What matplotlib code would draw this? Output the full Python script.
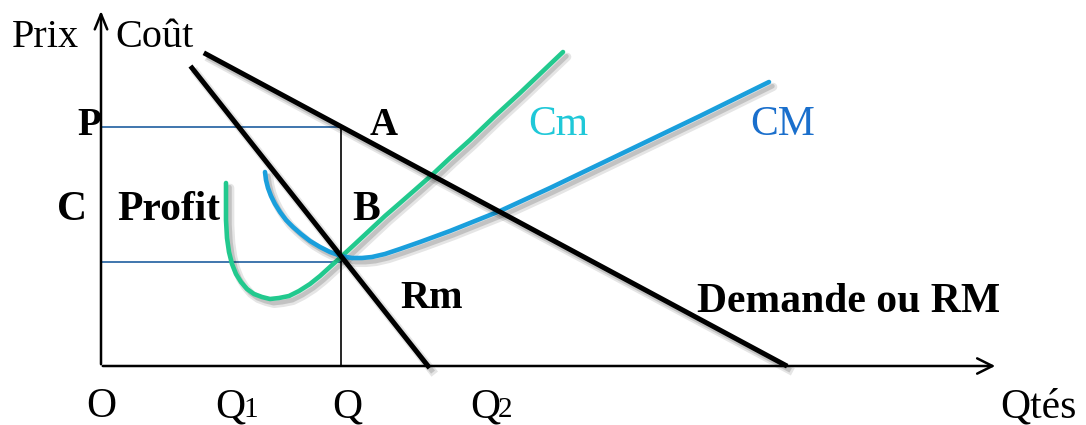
import matplotlib
matplotlib.use("Agg")
import matplotlib.pyplot as plt
import matplotlib.patheffects as pe

# ---- data (in picture units) ----
demand_x = [206, 785]
demand_y = [54, 365]
rm_x = [192, 428]
rm_y = [68, 366]
cm_x = [226, 226, 226, 227, 229, 232, 236, 241, 247, 254, 262, 270, 279, 289, 299, 310, 320, 331, 341,
        355, 370, 385, 400, 416, 433, 450, 470, 495, 520, 542, 563]
cm_y = [183, 200, 220, 238, 252, 264, 274, 282, 289, 294, 297, 299, 298, 296, 291, 284, 276, 266, 257,
        244, 230, 216, 203, 189, 174, 158, 140, 116, 93, 72, 52]
CM_x = [265, 266, 268, 271, 275, 280, 286, 293, 301, 310, 320, 330, 341, 352, 362, 372, 385, 400, 420,
        450, 500, 550, 600, 650, 700, 769]
CM_y = [172, 180, 188, 196, 204, 212, 220, 227, 234, 241, 247, 252, 256, 258, 258, 257, 254, 249, 242,
        231, 211, 188, 164, 140, 116, 82]
price_P = 127
cost_C = 262
qty_Q = 341
origin_x = 101
axis_y = 366
x_end = 998
y_end = 8

W, H = 1086, 425
fig = plt.figure(figsize=(W / 100, H / 100), dpi=100)
ax = fig.add_axes([0, 0, 1, 1])
ax.set_xlim(0, W)
ax.set_ylim(H, 0)
ax.axis("off")

serif = ["Liberation Serif", "DejaVu Serif"]
shadow = [pe.SimpleLineShadow(offset=(3, -3.5), shadow_color="black", alpha=0.10, linewidth=6),
          pe.SimpleLineShadow(offset=(2.5, -3), shadow_color="black", alpha=0.15),
          pe.Normal()]

# axes with open arrow heads
ax.annotate("", xy=(x_end, axis_y), xytext=(origin_x - 1, axis_y),
            arrowprops=dict(arrowstyle="->,head_length=1.1,head_width=0.55", lw=1.8, color="black"))
ax.annotate("", xy=(origin_x, y_end), xytext=(origin_x, axis_y + 1),
            arrowprops=dict(arrowstyle="->,head_length=1.1,head_width=0.45", lw=1.8, color="black"))

# guide lines
ax.plot([origin_x, qty_Q], [price_P, price_P], color="#1f5f9f", lw=1.2)
ax.plot([origin_x, qty_Q], [cost_C, cost_C], color="#1f5f9f", lw=1.2)
ax.plot([qty_Q, qty_Q], [price_P, axis_y], color="black", lw=1.2)

# curves
ax.plot(cm_x, cm_y, color="#22c98e", lw=3.3, solid_capstyle="round", solid_joinstyle="round",
        path_effects=shadow)
ax.plot(CM_x, CM_y, color="#1a9fdc", lw=3.3, solid_capstyle="round", solid_joinstyle="round",
        path_effects=shadow)
ax.plot(rm_x, rm_y, color="black", lw=3.6, path_effects=shadow)
ax.plot(demand_x, demand_y, color="black", lw=3.6, path_effects=shadow)

def t(x, y, s, size=30, weight="normal", color="black", ha="left"):
    ax.text(x, y, s, fontsize=size, fontweight=weight, color=color, ha=ha,
            va="baseline", family=serif)

t(12, 47, "Prix", 29)
t(115, 47, "Coût", 29)
t(77, 135, "P", 28, "bold")
t(370, 135, "A", 28, "bold")
t(528, 135, "Cm", 30, color="#1fc8d8")
t(750, 135, "CM", 30, color="#1a6fcc")
t(57, 220, "C", 30, "bold")
t(117, 220, "Profit", 30, "bold")
t(352, 220, "B", 30, "bold")
t(400, 308, "Rm", 29, "bold")
t(697, 312, "Demande ou RM", 30, "bold")
t(101, 417, "O", 30, ha="center")
t(215, 417, "Q", 30)
t(243, 417, "1", 21)
t(347, 417, "Q", 30, ha="center")
t(470, 417, "Q", 30)
t(498, 417, "2", 21)
t(1000, 417, "Qtés", 30)

fig.savefig("out.png", dpi=100, facecolor="white")
